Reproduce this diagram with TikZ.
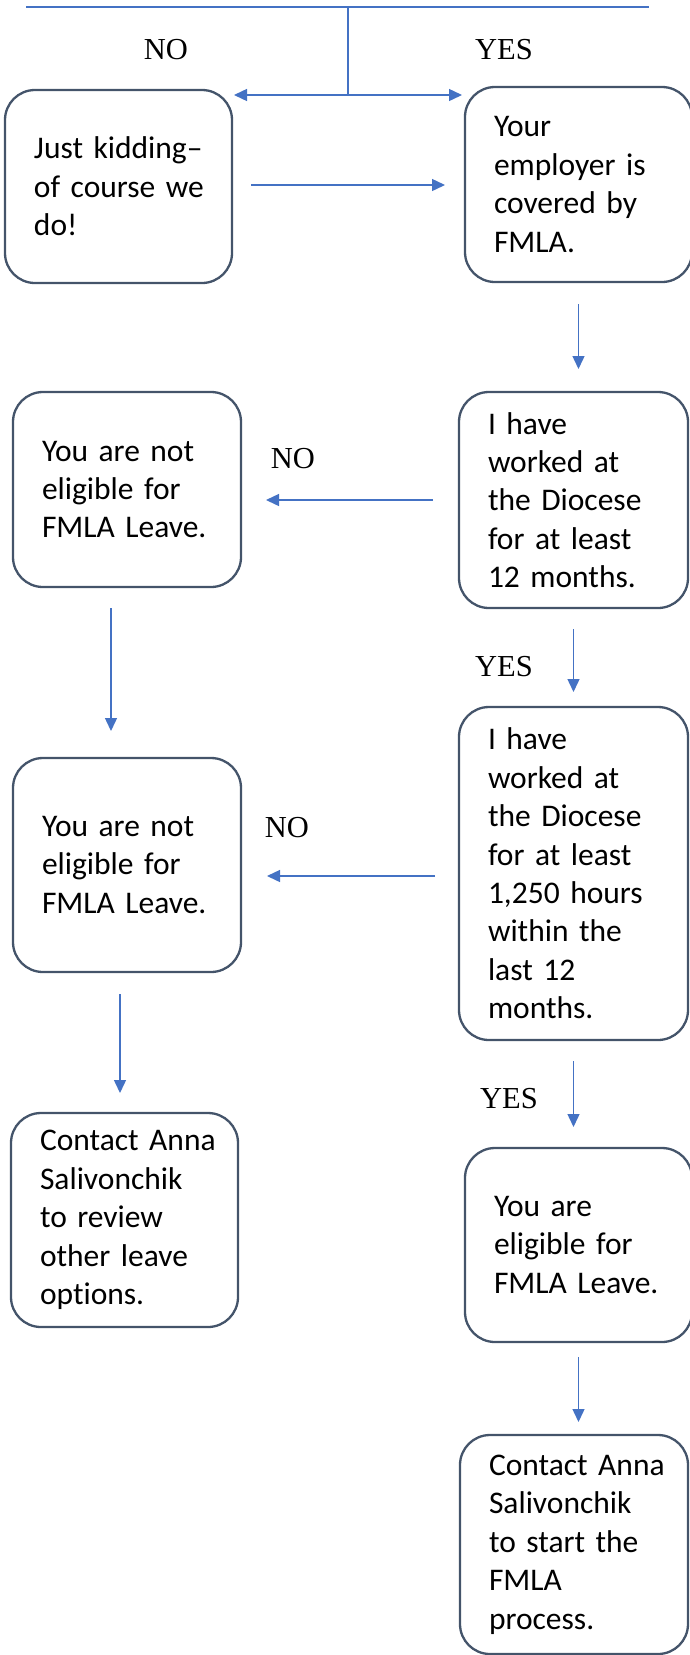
\documentclass[tikz,border=0pt]{standalone}
\usepackage{fontspec}
\setmainfont{Carlito}[Ligatures=NoCommon]
\newfontfamily\labelfont{Liberation Serif}
\usetikzlibrary{arrows.meta}
\definecolor{boxline}{HTML}{44546A}
\definecolor{arrblue}{HTML}{4472C4}
\begin{document}
\begin{tikzpicture}[x=1pt,y=-1pt,
  box/.style={draw=boxline, line width=2.3pt, rounded corners=30pt, align=left,
    inner xsep=29pt, inner ysep=0pt, outer sep=0pt,
    font={\fontsize{31.5}{38.4}\selectfont}},
  lbl/.style={font={\labelfont\fontsize{30.5}{36}\selectfont}, inner sep=0pt},
  arr/.style={draw=arrblue, line width=1.4pt, -{Triangle[length=13pt,width=12pt]}},
  ln/.style={draw=arrblue, line width=1.3pt}]
\useasboundingbox (0,0) rectangle (690,1655);

% boxes
\node[box, minimum width=227pt, minimum height=193pt, text width=169pt] (A) at (118.5,186.5)
  {Just~kidding--\\of~course~we\\do!};
\node[box, minimum width=227pt, minimum height=195pt, text width=169pt] (B) at (578.5,184.5)
  {Your\\employer~is\\covered~by\\FMLA.};
\node[box, minimum width=229pt, minimum height=216pt, text width=171pt] (C) at (573.5,500)
  {I~have\\worked~at\\the~Diocese\\for~at~least\\12~months.};
\node[box, minimum width=228pt, minimum height=195pt, text width=170pt] (D) at (127,489.5)
  {You~are~not\\eligible~for\\FMLA~Leave.};
\node[box, minimum width=229pt, minimum height=333pt, text width=171pt] (E) at (573.5,873.5)
  {I~have\\worked~at\\the~Diocese\\for~at~least\\1,250~hours\\within~the\\last~12\\months.};
\node[box, minimum width=228pt, minimum height=214pt, text width=170pt] (F) at (127,865)
  {You~are~not\\eligible~for\\FMLA~Leave.};
\node[box, minimum width=227pt, minimum height=214pt, text width=169pt] (G) at (124.5,1220)
  {Contact~Anna\\Salivonchik\\to~review\\other~leave\\options.};
\node[box, minimum width=227pt, minimum height=194pt, text width=169pt] (H) at (578.5,1245)
  {You~are\\eligible~for\\FMLA~Leave.};
\node[box, minimum width=228pt, minimum height=219pt, text width=170pt] (I) at (574,1544.5)
  {Contact~Anna\\Salivonchik\\to~start~the\\FMLA\\process.};

% labels
\node[lbl] (no1) at (166,50) {NO};
\node[lbl] (yes1) at (504,50) {YES};
\node[lbl] (no2) at (293,459) {NO};
\node[lbl] (yes2) at (504,667) {YES};
\node[lbl] (no3) at (287,828) {NO};
\node[lbl] (yes3) at (509,1099) {YES};

% top split
\coordinate (tl) at (26,7);
\coordinate (tr) at (649,7);
\coordinate (tm) at (348,7);
\coordinate (split) at (348,95);
\draw[ln] (tl) -- (tr);
\draw[ln] (tm) -- (split);
\draw[arr] (split) -- ([xshift=2pt]A.east |- split);
\draw[arr] (split) -- ([xshift=-3pt]B.west |- split);

% connectors
\draw[arr, shorten <=19pt, shorten >=20pt] ([yshift=1.5pt]A.east) -- ([yshift=1.5pt]A.east -| B.west);
\draw[arr, shorten <=22pt, shorten >=23pt] (B.south) -- (B.south |- C.north);
\draw[arr, shorten <=26pt, shorten >=25pt] (C.west) -- (C.west -| D.east);
\draw[arr, shorten <=21pt, shorten >=27pt] ([xshift=-16pt]D.south) -- ([xshift=-16pt]D.south |- F.north);
\draw[arr, shorten <=21pt, shorten >=15pt] (C.south) -- (C.south |- E.north);
\draw[arr, shorten <=24pt, shorten >=26pt] ([yshift=-2.5pt]E.west) -- ([yshift=-2.5pt]E.west -| F.east);
\draw[arr, shorten <=22pt, shorten >=20pt] ([xshift=-7pt]F.south) -- ([xshift=-7pt]F.south |- G.north);
\draw[arr, shorten <=21pt, shorten >=21pt] (E.south) -- (E.south |- H.north);
\draw[arr, shorten <=15pt, shorten >=13pt] (H.south) -- (H.south |- I.north);
\end{tikzpicture}
\end{document}
